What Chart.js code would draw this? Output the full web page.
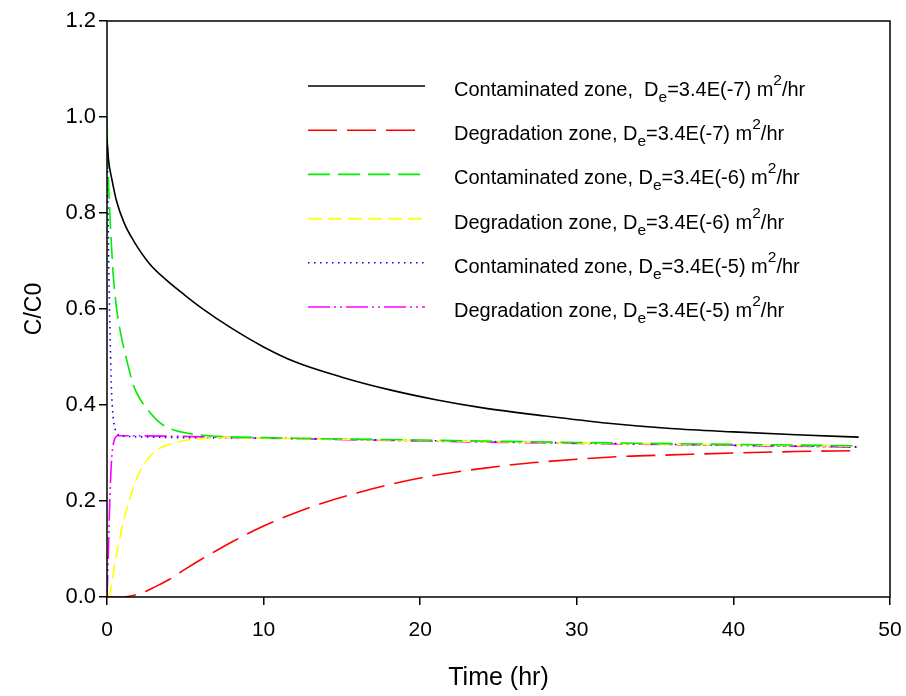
<!DOCTYPE html>
<html lang="en">
<head>
    <meta charset="UTF-8">
    <title>C/C0 vs time</title>
    <script src="https://cdn.jsdelivr.net/npm/chart.js"></script>
    <style>
        body { margin: 0; background: #fff; }
        #wrap { width: 906px; height: 696px; }
    </style>
</head>
<body>
    <div id="wrap"><canvas id="cChart"></canvas></div>

    <script>
        // values (time in hr, C/C0)
        const tBlack = [0, 0.1, 0.3, 0.6, 1.1, 1.7, 2.7, 3.8, 5, 6, 8, 10, 12, 15, 18, 21, 24, 28, 32, 36, 40, 44, 48];
        const cBlack = [0.955, 0.91, 0.872, 0.826, 0.779, 0.742, 0.695, 0.66, 0.628, 0.603, 0.559, 0.521, 0.49, 0.458, 0.432, 0.411, 0.394, 0.377, 0.362, 0.351, 0.344, 0.338, 0.333];

        const tRed = [0, 1, 1.5, 2, 2.5, 3, 4, 5, 6, 7, 8, 9, 10, 12, 14, 16, 18, 20, 22, 24, 26, 28, 30, 33, 36, 40, 44, 48];
        const cRed = [0, 0, 0.002, 0.006, 0.012, 0.02, 0.037, 0.058, 0.078, 0.097, 0.115, 0.132, 0.148, 0.175, 0.198, 0.217, 0.234, 0.248, 0.259, 0.268, 0.276, 0.282, 0.287, 0.293, 0.296, 0.3, 0.303, 0.305];

        const tGreen = [0, 0.06, 0.17, 0.28, 0.4, 0.6, 0.9, 1.25, 1.7, 2.1, 2.6, 3.2, 3.8, 5, 7, 10, 20, 30, 40, 48];
        const cGreen = [1.0, 0.9, 0.806, 0.736, 0.67, 0.604, 0.545, 0.495, 0.44, 0.413, 0.39, 0.368, 0.354, 0.342, 0.335, 0.332, 0.327, 0.322, 0.318, 0.315];

        const tYellow = [0, 0.2, 0.5, 0.8, 1, 1.5, 2, 2.5, 3, 3.5, 4, 5, 6, 8, 10, 20, 30, 40, 48];
        const cYellow = [0, 0.01, 0.07, 0.12, 0.15, 0.21, 0.255, 0.283, 0.302, 0.312, 0.318, 0.326, 0.33, 0.332, 0.331, 0.326, 0.321, 0.317, 0.314];

        const tBlue = [0, 0.05, 0.1, 0.15, 0.2, 0.25, 0.3, 0.4, 0.5, 0.7, 1, 10, 20, 30, 40, 48];
        const cBlue = [1.0, 0.85, 0.72, 0.62, 0.54, 0.47, 0.42, 0.372, 0.352, 0.338, 0.335, 0.331, 0.326, 0.321, 0.316, 0.313];

        const tMagenta = [0, 0.05, 0.1, 0.15, 0.2, 0.25, 0.3, 0.4, 0.5, 0.7, 1, 10, 20, 30, 40, 48];
        const cMagenta = [0, 0.05, 0.11, 0.17, 0.22, 0.26, 0.29, 0.318, 0.33, 0.336, 0.336, 0.331, 0.325, 0.32, 0.316, 0.312];

        const zoneNames = ['Contaminated zone,  ', 'Degradation zone, ', 'Contaminated zone, ', 'Degradation zone, ', 'Contaminated zone, ', 'Degradation zone, '];
        const deValues = ['3.4E(-7)', '3.4E(-7)', '3.4E(-6)', '3.4E(-6)', '3.4E(-5)', '3.4E(-5)'];
        const xTicks = [0, 10, 20, 30, 40, 50];
        const yTicks = [0, 0.2, 0.4, 0.6, 0.8, 1.0, 1.2];

        const FONT = "Arial, 'Liberation Sans', sans-serif";

        function pts(ts, cs) {
            return ts.map((t, i) => ({ x: t, y: cs[i] }));
        }

        const styles = [
            { color: '#000000', dash: [], width: 1.6 },
            { color: '#ff0000', dash: [29, 10], width: 1.6 },
            { color: '#00ee00', dash: [22, 8], width: 1.6 },
            { color: '#ffff00', dash: [14, 6], width: 1.6 },
            { color: '#0000ff', dash: [1.5, 4.5], width: 1.6 },
            { color: '#ff00ff', dash: [22, 4, 2, 4, 2, 4], width: 1.6 }
        ];
        const series = [
            pts(tBlack, cBlack), pts(tRed, cRed), pts(tGreen, cGreen),
            pts(tYellow, cYellow), pts(tBlue, cBlue), pts(tMagenta, cMagenta)
        ];

        // legend with subscript / superscript
        const legendPlugin = {
            id: 'texLegend',
            afterDraw(chart) {
                const ctx = chart.ctx;
                const x0 = 308, x1 = 425, xt = 454, y0 = 86, dy = 44.2;
                ctx.save();
                styles.forEach((s, i) => {
                    const y = y0 + i * dy;
                    ctx.strokeStyle = s.color;
                    ctx.lineWidth = s.width;
                    ctx.setLineDash(s.dash);
                    ctx.beginPath();
                    ctx.moveTo(x0, y);
                    ctx.lineTo(x1, y);
                    ctx.stroke();
                    ctx.setLineDash([]);

                    const parts = [
                        [zoneNames[i] + 'D', 0],
                        ['e', 1],
                        ['=' + deValues[i] + ' m', 0],
                        ['2', -1],
                        ['/hr', 0]
                    ];
                    let x = xt;
                    ctx.fillStyle = '#000';
                    ctx.textBaseline = 'alphabetic';
                    ctx.textAlign = 'left';
                    const by = y + 10;
                    parts.forEach(([txt, mode]) => {
                        ctx.font = (mode === 0 ? '20px ' : '15.5px ') + FONT;
                        const yy = mode === 1 ? by + 6 : (mode === -1 ? by - 11 : by);
                        ctx.fillText(txt, x, yy);
                        x += ctx.measureText(txt).width;
                    });
                });
                ctx.restore();
            }
        };

        const framePlugin = {
            id: 'frame',
            afterDatasetsDraw(chart) {
                const { ctx, chartArea: a } = chart;
                ctx.save();
                ctx.strokeStyle = '#000';
                ctx.lineWidth = 1.5;
                ctx.strokeRect(a.left, a.top, a.right - a.left, a.bottom - a.top);
                ctx.restore();
            }
        };

        new Chart(document.getElementById('cChart'), {
            type: 'line',
            data: {
                datasets: series.map((d, i) => ({
                    data: d,
                    borderColor: styles[i].color,
                    borderDash: styles[i].dash,
                    borderWidth: styles[i].width,
                    pointRadius: 0,
                    fill: false,
                    cubicInterpolationMode: 'monotone'
                }))
            },
            options: {
                responsive: true,
                maintainAspectRatio: false,
                animation: false,
                layout: { padding: { top: 21, right: 16, left: 0, bottom: 0 } },
                plugins: {
                    legend: { display: false },
                    tooltip: { enabled: false }
                },
                scales: {
                    x: {
                        type: 'linear',
                        min: 0, max: 50,
                        afterBuildTicks: s => { s.ticks = xTicks.map(v => ({ value: v })); },
                        afterFit: s => { s.height = 99; s.paddingLeft = 0; s.paddingRight = 0; },
                        border: { display: false },
                        grid: { drawOnChartArea: false, drawTicks: true, tickLength: 8, color: '#000', lineWidth: 1.5 },
                        ticks: { color: '#000', padding: 13, font: { family: FONT, size: 21 } },
                        title: { display: true, text: 'Time (hr)', color: '#000', font: { family: FONT, size: 25 }, padding: { top: 0, bottom: 3 } }
                    },
                    y: {
                        min: 0, max: 1.2,
                        afterBuildTicks: s => { s.ticks = yTicks.map(v => ({ value: v })); },
                        afterFit: s => { s.width = 107; s.paddingTop = 0; s.paddingBottom = 0; },
                        border: { display: false },
                        grid: { drawOnChartArea: false, drawTicks: true, tickLength: 8, color: '#000', lineWidth: 1.5 },
                        ticks: { color: '#000', padding: 3, font: { family: FONT, size: 22 }, callback: v => v.toFixed(1) },
                        title: { display: true, text: 'C/C0', color: '#000', font: { family: FONT, size: 23 }, padding: { top: 21, bottom: 0 } }
                    }
                }
            },
            plugins: [legendPlugin, framePlugin]
        });
    </script>
</body>
</html>
